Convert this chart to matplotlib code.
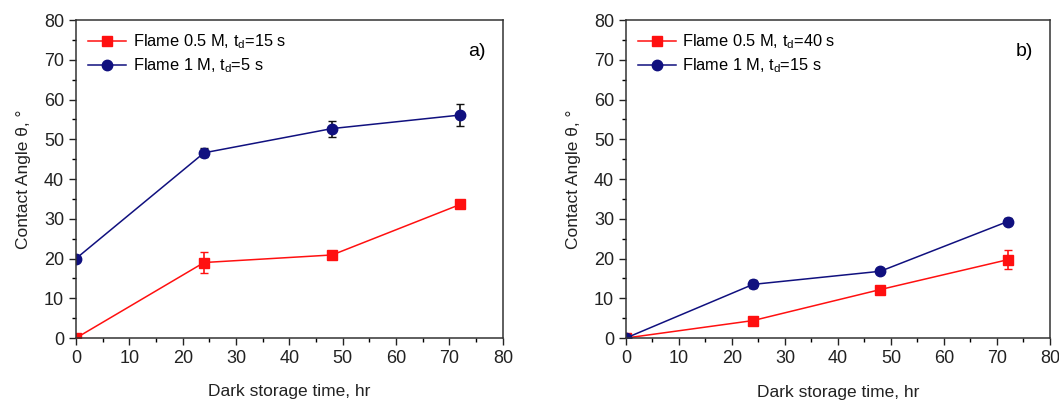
import numpy as np
import matplotlib
matplotlib.use('Agg')
import matplotlib.pyplot as plt
from matplotlib.ticker import MultipleLocator

plt.rcParams['font.family'] = ['Liberation Sans', 'DejaVu Sans']

time_hr = [0, 24, 48, 72]

# panel a)
a_red = [0, 19.0, 20.9, 33.6]
a_red_err = [0, 2.7, 0.6, 0.6]
a_blue = [20.0, 46.6, 52.7, 56.1]
a_blue_err = [0.6, 1.1, 2.0, 2.7]
a_labels = ['Flame 0.5 M, t$_\\mathregular{d}$=15 s', 'Flame 1 M, t$_\\mathregular{d}$=5 s']

# panel b)
b_red = [0, 4.4, 12.2, 19.7]
b_red_err = [0, 0.5, 0.5, 2.4]
b_blue = [0, 13.5, 16.8, 29.3]
b_blue_err = [0, 1.0, 0.8, 0.8]
b_labels = ['Flame 0.5 M, t$_\\mathregular{d}$=40 s', 'Flame 1 M, t$_\\mathregular{d}$=15 s']

red = '#ff1010'
navy = '#10107f'

fig = plt.figure(figsize=(10.59, 4.01), dpi=100)
ax1 = fig.add_axes([0.0718, 0.157, 0.403, 0.793])
ax2 = fig.add_axes([0.591, 0.157, 0.4005, 0.793])


def panel(ax, r, re, b, be, labels, tag, xlabpad):
    # error bars first, then lines+markers (so legend handles have no caps)
    ax.errorbar(time_hr, r, yerr=re, fmt='none', capsize=3, elinewidth=1.2, ecolor=red)
    ax.errorbar(time_hr, b, yerr=be, fmt='none', capsize=3, elinewidth=1.2, ecolor='#111111')
    ax.plot(time_hr, r, color=red, marker='s', markersize=6.5, linewidth=1.1, label=labels[0])
    ax.plot(time_hr, b, color=navy, marker='o', markersize=7.5, linewidth=1.1, label=labels[1])
    ax.set_xlim(0, 80)
    ax.set_ylim(0, 80)
    ax.xaxis.set_major_locator(MultipleLocator(10))
    ax.xaxis.set_minor_locator(MultipleLocator(5))
    ax.yaxis.set_major_locator(MultipleLocator(10))
    ax.yaxis.set_minor_locator(MultipleLocator(5))
    ax.tick_params(which='major', direction='out', length=5, width=1, labelsize=13, colors='#222222')
    ax.tick_params(which='minor', direction='out', length=3, width=1)
    for s in ax.spines.values():
        s.set_linewidth(1.1)
        s.set_color('#333333')
    ax.set_xlabel('Dark storage time, hr', fontsize=12.5, labelpad=xlabpad, color='#222222')
    ax.set_ylabel('Contact Angle θ, °', fontsize=12.5, labelpad=9, color='#222222')
    ax.legend(loc='upper left', frameon=False, fontsize=11.8, handlelength=2.3,
              borderaxespad=0.35, labelspacing=0.35, handletextpad=0.4)
    ax.text(0.96, 0.9, tag, transform=ax.transAxes, fontsize=14, ha='right', va='center')


panel(ax1, a_red, a_red_err, a_blue, a_blue_err, a_labels, 'a)', 12)
panel(ax2, b_red, b_red_err, b_blue, b_blue_err, b_labels, 'b)', 13)

fig.savefig('out.png', dpi=100)
